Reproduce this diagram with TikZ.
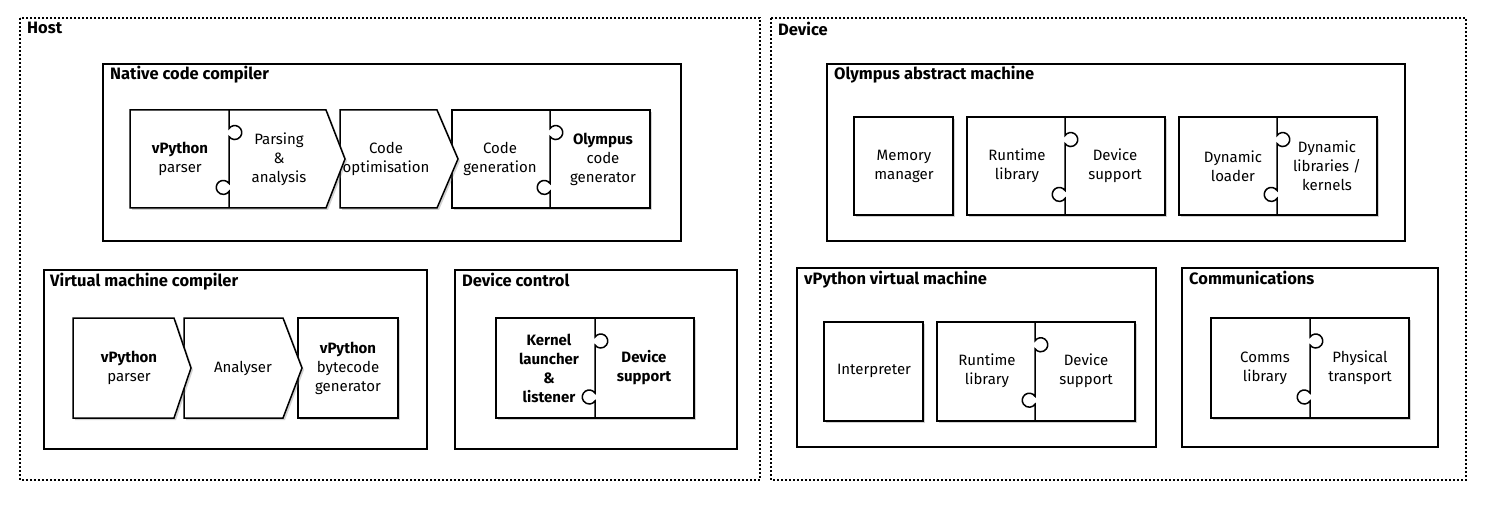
\documentclass[tikz,border=0pt]{standalone}
\usepackage{fontspec}
\setmainfont{Fira Sans}
\usetikzlibrary{shadows}
\begin{document}
\begin{tikzpicture}[x=1pt,y=-1pt,
  line/.style={line width=1.5pt,line join=miter},
  piece/.style={line width=1.5pt,fill=white,drop shadow={shadow xshift=2pt,shadow yshift=-2pt,opacity=0.35}},
  group/.style={line width=1.2pt,fill=white},
  outer/.style={line width=1.2pt,dash pattern=on 2pt off 2pt},
  ttl/.style={anchor=north west,inner sep=0pt,font=\fontsize{16.5}{19}\selectfont\bfseries},
  txt/.style={align=center,inner sep=0pt,font=\fontsize{15}{19}\selectfont}]
\newcommand\knobs[3]{\draw[line] (#1,#2) -- (#1,{#2+0.23*(#3-#2)-4}) arc[start angle=-145,end angle=145,radius=7] -- (#1,{#2+0.79*(#3-#2)-4}) arc[start angle=-35,end angle=-325,radius=7] -- (#1,#3);}
\newcommand\chev[5]{\draw[piece] (#1,#2) -- (#3,#2) -- (#4,{(#2+#5)/2}) -- (#3,#5) -- (#1,#5) -- cycle;}
\useasboundingbox (0,0) rectangle (1489,505);
% outer
\draw[outer] (20,18) rectangle (760,480);
\draw[outer] (771,18) rectangle (1466,480);
\node[ttl] (host) at (27,22) {Host};
\node[ttl] (dev) at (778,22) {Device};
% groups
\draw[group] (103,64) rectangle (681,241);
\node[ttl] (ncc) at (110,66) {Native code compiler};
\draw[group] (44,270) rectangle (427,449);
\node[ttl] (vmc) at (50,273) {Virtual machine compiler};
\draw[group] (455,270) rectangle (737,449);
\node[ttl] (dc) at (462,273) {Device control};
\draw[group] (827,64) rectangle (1405,241);
\node[ttl] (oam) at (834,66) {Olympus abstract machine};
\draw[group] (797,268) rectangle (1156,447);
\node[ttl] (vvm) at (804,271) {vPython virtual machine};
\draw[group] (1182,268) rectangle (1438,447);
\node[ttl] (com) at (1189,271) {Communications};
% native code compiler
\draw[piece] (452,110) rectangle (650,208); \knobs{550}{110}{208}
\chev{340}{110}{437}{458}{208}
\chev{130}{110}{326}{345}{208} \knobs{229}{110}{208}
\node[txt] (a1) at (180,159) {\textbf{vPython}\\parser};
\node[txt] (a2) at (279,159) {Parsing\\\&\\analysis};
\node[txt] (a3) at (386,159) {Code\\optimisation};
\node[txt] (a4) at (500,159) {Code\\generation};
\node[txt] (a5) at (603,159) {\textbf{Olympus}\\code\\generator};
% virtual machine compiler
\draw[piece] (298,318) rectangle (398,418);
\chev{184}{318}{283}{302}{418}
\chev{73}{318}{174}{191}{418}
\node[txt] (b1) at (129,368) {\textbf{vPython}\\parser};
\node[txt] (b2) at (243,368) {Analyser};
\node[txt] (b3) at (348,368) {\textbf{vPython}\\bytecode\\generator};
% device control
\draw[piece] (496,318) rectangle (694,418); \knobs{595}{318}{418}
\node[txt] (c1) at (549,368) {\textbf{Kernel}\\\textbf{launcher}\\\textbf{\&}\\\textbf{listener}};
\node[txt] (c2) at (644,368) {\textbf{Device}\\\textbf{support}};
% Olympus abstract machine
\draw[piece] (854,117) rectangle (953,215);
\draw[piece] (967,117) rectangle (1165,215); \knobs{1065}{117}{215}
\draw[piece] (1179,117) rectangle (1377,215); \knobs{1277}{117}{215}
\node[txt] (d1) at (904,166) {Memory\\manager};
\node[txt] (d2) at (1017,166) {Runtime\\library};
\node[txt] (d3) at (1115,166) {Device\\support};
\node[txt] (d4) at (1233,166) {Dynamic\\loader};
\node[txt] (d5) at (1327,166) {Dynamic\\libraries /\\kernels};
% vPython VM
\draw[piece] (824,322) rectangle (923,421);
\draw[piece] (937,322) rectangle (1135,421); \knobs{1035}{322}{421}
\node[txt] (e1) at (874,371) {Interpreter};
\node[txt] (e2) at (987,371) {Runtime\\library};
\node[txt] (e3) at (1086,371) {Device\\support};
% Communications
\draw[piece] (1211,318) rectangle (1409,418); \knobs{1310}{318}{418}
\node[txt] (f1) at (1265,368) {Comms\\library};
\node[txt] (f2) at (1360,368) {Physical\\transport};
\end{tikzpicture}
\end{document}
